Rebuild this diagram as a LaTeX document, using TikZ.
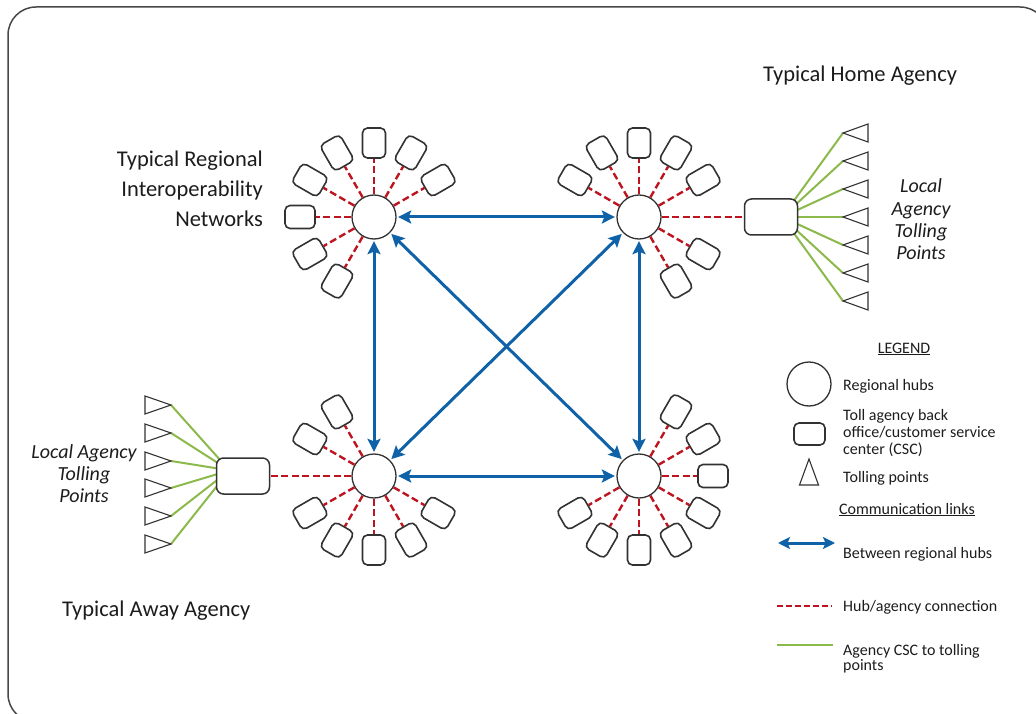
\documentclass[tikz,border=0pt]{standalone}
\usepackage{fontspec}
\setmainfont{Carlito}
\usetikzlibrary{arrows.meta,calc}
\pgfdeclarelayer{background}
\pgfsetlayers{background,main}

\definecolor{hubblue}{RGB}{15,98,168}
\definecolor{linkred}{RGB}{190,20,32}
\definecolor{cscgreen}{RGB}{140,185,75}
\definecolor{outline}{RGB}{50,50,50}
\definecolor{ink}{RGB}{28,28,28}

\begin{document}
\begin{tikzpicture}[x=1pt,y=-1pt,
  hub/.style={circle, draw=outline, line width=1.3pt, fill=white,
    minimum size=44pt, inner sep=0pt},
  csc/.style={draw=outline, line width=1.6pt, fill=white, rounded corners=5pt,
    minimum width=23pt, minimum height=30pt, inner sep=0pt},
  agency/.style={draw=outline, line width=1.5pt, fill=white, rounded corners=7pt,
    minimum width=53pt, minimum height=36pt, inner sep=0pt},
  tollpt/.style={draw=outline, line width=1.1pt, fill=white, line join=miter},
  hubarrow/.style={{Stealth[length=13pt,width=13pt,inset=2.5pt]}-{Stealth[length=13pt,width=13pt,inset=2.5pt]},
    line width=3pt, draw=hubblue, shorten >=1.5pt, shorten <=1.5pt},
  hublink/.style={draw=linkred, line width=2.4pt, dash pattern=on 7pt off 3.5pt},
  csclink/.style={draw=cscgreen, line width=2pt},
  bigtext/.style={text=ink, font=\fontsize{22.5}{27}\selectfont, inner sep=0pt},
  ittext/.style={text=ink, font=\fontsize{20}{24}\selectfont\itshape, inner sep=0pt},
  legtext/.style={text=ink, font=\fontsize{16}{19}\selectfont, inner sep=0pt},
  frame/.style={draw=outline!90, line width=1.5pt}
]
\useasboundingbox (0,0) rectangle (1036,714);
\clip (0,0) rectangle (1036,714);
\draw[frame, rounded corners=28pt] (8,7) rectangle (1048,722);

% regional hubs
\node[hub] (tl) at (374,217) {};
\node[hub] (tr) at (639,217) {};
\node[hub] (bl) at (374,476) {};
\node[hub] (br) at (639,476) {};

% agency back offices around each hub
\foreach \a in {30,60,...,240} {
  \node[csc, rotate=\a-90] (tl-\a) at ($(tl)+(\a:74pt)$) {};
  \draw[hublink] (tl) -- (tl-\a);
}
\foreach \a in {30,60,90,120,150,300,330} {
  \node[csc, rotate=\a-90] (tr-\a) at ($(tr)+(\a:74pt)$) {};
  \draw[hublink] (tr) -- (tr-\a);
}
\foreach \a in {120,150,210,240,270,300,330} {
  \node[csc, rotate=\a-90] (bl-\a) at ($(bl)+(\a:74pt)$) {};
  \draw[hublink] (bl) -- (bl-\a);
}
\foreach \a in {0,30,60,210,240,270,300,330} {
  \node[csc, rotate=\a-90] (br-\a) at ($(br)+(\a:74pt)$) {};
  \draw[hublink] (br) -- (br-\a);
}

% home and away agencies
\node[agency] (home) at (771,217) {};
\node[agency] (away) at (243,476) {};
\draw[hublink] (tr) -- (home);
\draw[hublink] (bl) -- (away);

% tolling points of the home agency
\foreach \y [count=\i] in {133,161,189,217,245,273,301} {
  \coordinate (hp\i) at (843,\y);
  \draw[tollpt] (hp\i) -- (868,\y-9) -- (868,\y+9) -- cycle;
}
\begin{pgfonlayer}{background}
\foreach \i/\o in {1/-15,2/-10,3/-5,4/0,5/5,6/10,7/15}
  \draw[csclink] ($(home.center)+(22,\o)$) -- (hp\i);
\end{pgfonlayer}

% tolling points of the away agency
\foreach \y [count=\i] in {405,433,461,488,516,544} {
  \coordinate (ap\i) at (171,\y);
  \draw[tollpt] (ap\i) -- (145,\y-9) -- (145,\y+9) -- cycle;
}
\begin{pgfonlayer}{background}
\foreach \i/\o in {1/-15,2/-11,3/-7,4/-3,5/1,6/5}
  \draw[csclink] ($(away.center)+(-22,\o)$) -- (ap\i);
\end{pgfonlayer}

% links between regional hubs
\draw[hubarrow] (tl) -- (tr);
\draw[hubarrow] (bl) -- (br);
\draw[hubarrow] (tl) -- (bl);
\draw[hubarrow] (tr) -- (br);
\draw[hubarrow] (tl) -- (br);
\draw[hubarrow] (tr) -- (bl);

% labels
\node[bigtext, anchor=base west] (homelbl) at (763,82) {Typical Home Agency};
\node[bigtext, anchor=base west] (awaylbl) at (62,616) {Typical Away Agency};
\node[bigtext, anchor=base east] (rin1) at (263,167) {Typical Regional};
\node[bigtext, anchor=base east] (rin2) at (263,197) {Interoperability};
\node[bigtext, anchor=base east] (rin3) at (263,226) {Networks};

\node[ittext, anchor=base] (hl1) at (921,193) {Local};
\node[ittext, anchor=base] (hl2) at (921,215) {Agency};
\node[ittext, anchor=base] (hl3) at (921,237) {Tolling};
\node[ittext, anchor=base] (hl4) at (921,259) {Points};

\node[ittext, anchor=base] (al1) at (84,458) {Local Agency};
\node[ittext, anchor=base] (al2) at (84,480) {Tolling};
\node[ittext, anchor=base] (al3) at (84,502) {Points};

% legend
\node[legtext, anchor=base] (leghead) at (904,353) {\underline{LEGEND}};
\node[hub] (leghub) at (809,384) {};
\node[legtext, anchor=base west] (leghubt) at (843,390) {Regional hubs};
\node[csc, minimum width=31pt, minimum height=22pt] (legcsc) at (809.5,434) {};
\node[legtext, anchor=base west] (legcsc1) at (843,420) {Toll agency back};
\node[legtext, anchor=base west] (legcsc2) at (843,437) {office/customer service};
\node[legtext, anchor=base west] (legcsc3) at (843,454) {center (CSC)};
\draw[tollpt] (809,459) -- (799.5,485) -- (818.5,485) -- cycle;
\node[legtext, anchor=base west] (legtollt) at (843,482) {Tolling points};
\node[legtext, anchor=base] (leglinks) at (907,514) {\underline{Communication links}};

\coordinate (lb1) at (778,543);
\coordinate (lb2) at (835,543);
\draw[hubarrow, shorten >=0pt, shorten <=0pt,
  {Stealth[length=12pt,width=12pt,inset=2.5pt]}-{Stealth[length=12pt,width=12pt,inset=2.5pt]}] (lb1) -- (lb2);
\node[legtext, anchor=base west] (legblue) at (843,558) {Between regional hubs};

\coordinate (lr1) at (777,606);
\coordinate (lr2) at (832,606);
\draw[hublink, line width=2pt, dash pattern=on 6pt off 3pt] (lr1) -- (lr2);
\node[legtext, anchor=base west] (legred) at (843,611) {Hub/agency connection};

\coordinate (lg1) at (777,645);
\coordinate (lg2) at (833,645);
\draw[csclink] (lg1) -- (lg2);
\node[legtext, anchor=base west] (leggreen1) at (843,655) {Agency CSC to tolling};
\node[legtext, anchor=base west] (leggreen2) at (843,670) {points};
\end{tikzpicture}
\end{document}
